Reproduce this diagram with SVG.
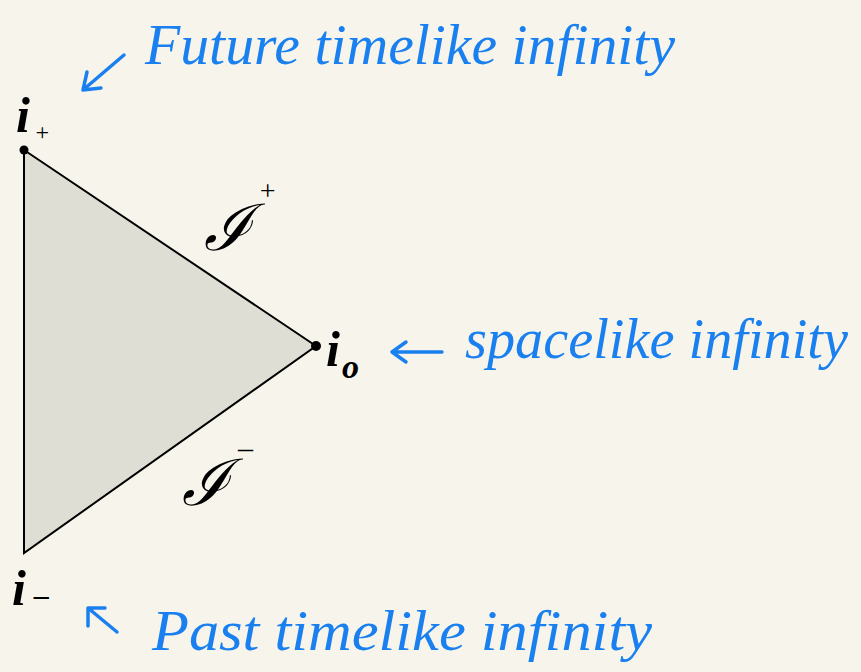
<svg xmlns="http://www.w3.org/2000/svg" width="861" height="672" viewBox="0 0 861 672">
<style>
.blue{fill:#1a80f0;font-family:"Liberation Serif",serif;font-style:italic}
.lbl{fill:#000;font-family:"Liberation Serif",serif;font-style:italic}
.arr{fill:none;stroke:#1a80f0;stroke-width:3.5;stroke-linecap:round;stroke-linejoin:round}
</style>
<rect x="0" y="0" width="861" height="672" fill="#f7f5eb"/>
<g id="region">
<polygon points="24,150 316,346 24,553" fill="#dfded4" stroke="#000" stroke-width="2"/>
</g>
<g id="i-plus">
<circle cx="24" cy="150" r="4.5" fill="#000"/>
<text class="lbl" x="16" y="132" font-size="50" font-weight="bold">i</text>
<text class="lbl" x="34" y="140" font-size="24">+</text>
</g>
<g id="i-zero">
<circle cx="316" cy="346" r="5" fill="#000"/>
<text class="lbl" x="326" y="366" font-size="50" font-weight="bold">i</text>
<text class="lbl" x="342" y="378" font-size="34" font-weight="bold">o</text>
</g>
<g id="i-minus">
<text class="lbl" x="12" y="605" font-size="50" font-weight="bold">i</text>
<text class="lbl" x="34" y="605" font-size="30" font-weight="bold">–</text>
</g>
<g id="scri-plus">
<text class="lbl" x="204" y="250" font-size="64">ℐ</text>
<text class="lbl" x="258" y="200" font-size="28">+</text>
</g>
<g id="scri-minus">
<text class="lbl" x="182" y="505" font-size="64">ℐ</text>
<text class="lbl" x="238" y="458" font-size="30">–</text>
</g>
<g id="future">
<text class="blue" x="145" y="64" font-size="58" textLength="530" lengthAdjust="spacingAndGlyphs">Future timelike infinity</text>
</g>
<g id="spacelike">
<text class="blue" x="465" y="358" font-size="58" textLength="383" lengthAdjust="spacingAndGlyphs">spacelike infinity</text>
</g>
<g id="past">
<text class="blue" x="152" y="650" font-size="58" textLength="500" lengthAdjust="spacingAndGlyphs">Past timelike infinity</text>
</g>
<g id="connectors">
<path class="arr" d="M124,55 L83,90 M83,90 L87,72 M83,90 L101,88"/>
<path class="arr" d="M442,352 L392,352 M392,352 L406,342 M392,352 L406,362"/>
<path class="arr" d="M117,632 L88,608 M88,608 L88,626 M88,608 L105,608"/>
</g>
</svg>
